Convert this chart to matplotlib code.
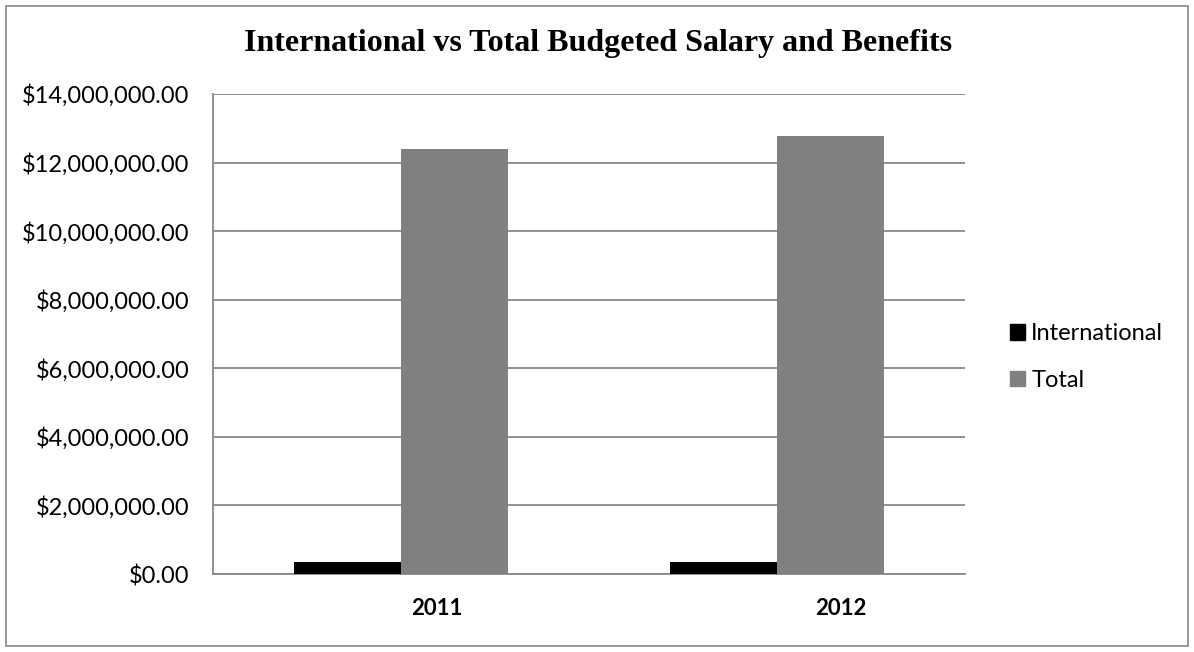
import matplotlib
matplotlib.use("Agg")
import matplotlib.pyplot as plt
import matplotlib.transforms as mtransforms
from matplotlib.patches import Rectangle, Patch
from matplotlib.ticker import FuncFormatter, MultipleLocator
import numpy as np

categories = ["2011", "2012"]
series_names = ["International", "Total"]
international = [360000, 340000]
total = [12390000, 12780000]
colors = ["#000000", "#808080"]

fig = plt.figure(figsize=(11.94, 6.52), dpi=100)
fig.patch.set_facecolor("white")
fig.add_artist(Rectangle((6/1194, 6/652), 1182/1194, 640/652, transform=fig.transFigure,
                         fill=False, edgecolor="#888888", linewidth=1.2))

ax = fig.add_axes([213/1194, 78/652, 752/1194, 480/652])
x = np.arange(len(categories))
w = 0.285
ax.bar(x - w/2, international, width=w, color=colors[0], zorder=3)
ax.bar(x + w/2, total, width=w, color=colors[1], zorder=3)

ax.set_xlim(-0.5, 1.5)
ax.set_ylim(0, 14000000)
ax.yaxis.set_major_locator(MultipleLocator(2000000))
ax.yaxis.set_major_formatter(FuncFormatter(lambda v, p: "${:,.2f}".format(v)))
ax.grid(axis="y", color="#888888", linewidth=1.3, zorder=0)
for s in ["right", "top"]:
    ax.spines[s].set_visible(False)
for s in ["left", "bottom"]:
    ax.spines[s].set_color("#888888")
    ax.spines[s].set_linewidth(1.3)
ax.tick_params(axis="both", length=0)
ax.tick_params(axis="y", labelsize=17, pad=17)
ax.set_xticks(x)
ax.set_xticklabels(categories, fontsize=16, fontweight="bold")
ax.tick_params(axis="x", pad=17)
for lbl, dx in zip(ax.get_xticklabels(), [36, 64]):
    lbl.set_transform(lbl.get_transform() + mtransforms.ScaledTranslation(dx/100, 0, fig.dpi_scale_trans))
for lbl in ax.get_yticklabels() + ax.get_xticklabels():
    lbl.set_family(["Lato", "DejaVu Sans"])

fig.text(598/1194, 1 - 43/652, "International vs Total Budgeted Salary and Benefits",
         ha="center", va="center", fontsize=23, fontweight="bold", family="Liberation Serif")

handles = [Patch(facecolor=c, edgecolor=c) for c in colors]
leg = fig.legend(handles, series_names, loc="center left", bbox_to_anchor=(989/1194, 1 - 357/652),
                 frameon=False, handlelength=0.64, handleheight=0.64,
                 handletextpad=0.25, labelspacing=1.08, prop={"family": "Lato", "size": 17})

fig.savefig("out.png", dpi=100)
